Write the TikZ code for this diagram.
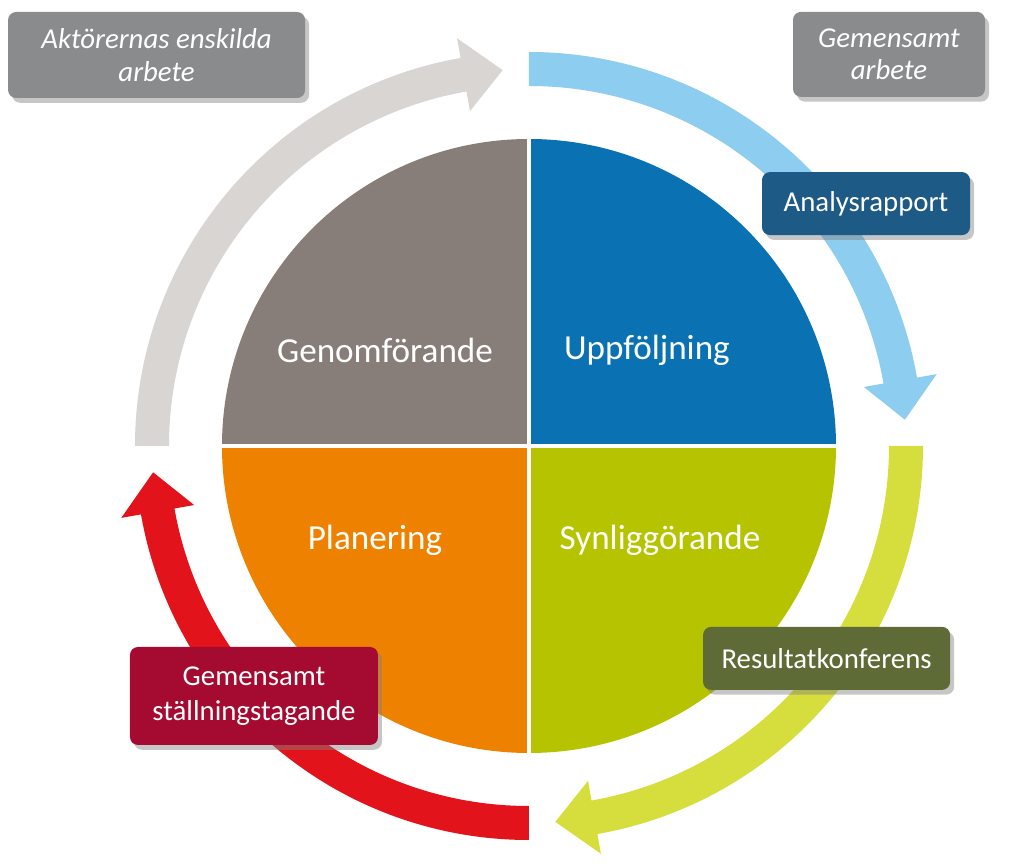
\documentclass[tikz,border=0pt]{standalone}
\usepackage{fontspec}
\setmainfont{Carlito}
\usepackage{xcolor}
\usepackage{tikz}
\usetikzlibrary{positioning, shadows}

\definecolor{quadgrey}{HTML}{877E79}
\definecolor{quadblue}{HTML}{0A71B3}
\definecolor{quadorange}{HTML}{EE8100}
\definecolor{quadlime}{HTML}{B6C300}
\definecolor{arrgrey}{HTML}{D8D5D2}
\definecolor{arrblue}{HTML}{8DCDEF}
\definecolor{arrgreen}{HTML}{D5DE3C}
\definecolor{arrred}{HTML}{E2131B}
\definecolor{boxgrey}{HTML}{8A8B8D}
\definecolor{boxblue}{HTML}{1E5A86}
\definecolor{boxolive}{HTML}{5E6B36}
\definecolor{boxred}{HTML}{A50B30}

\tikzset{
  quadlabel/.style={text=white, font=\fontsize{25}{30}\selectfont},
  infobox/.style={rounded corners=0.2cm, text=white, align=center, inner sep=0pt,
    font=\fontsize{20.5}{25}\selectfont,
    drop shadow={opacity=0.45, shadow xshift=0.1cm, shadow yshift=-0.12cm}},
}

% ring arrow: start angle, colour (runs clockwise for 86 degrees)
\newcommand{\ringarrow}[2]{%
  \fill[#2] (#1:9.85) arc[start angle=#1, end angle=#1-80, radius=9.85]
    -- ({#1-80}:10.35) -- ({#1-86}:9.42) -- ({#1-80}:8.5) -- ({#1-80}:9.0)
    arc[start angle=#1-80, end angle=#1, radius=9.0] -- cycle;}

\begin{document}
\begin{tikzpicture}
    \useasboundingbox (-13.225,-10.45) rectangle (12.375,11.15);

    % Quadrants
    \fill[quadgrey] (0,0) -- (180:7.675) arc[start angle=180, end angle=90, radius=7.675] -- cycle;
    \fill[quadblue] (0,0) -- (90:7.675) arc[start angle=90, end angle=0, radius=7.675] -- cycle;
    \fill[quadlime] (0,0) -- (0:7.675) arc[start angle=0, end angle=-90, radius=7.675] -- cycle;
    \fill[quadorange] (0,0) -- (-90:7.675) arc[start angle=-90, end angle=-180, radius=7.675] -- cycle;
    \draw[white, line width=0.1cm] (-7.8,0) -- (7.8,0);
    \draw[white, line width=0.1cm] (0,-7.8) -- (0,7.8);

    \node[quadlabel] (gen) at (-3.6,2.4) {Genomförande};
    \node[quadlabel] (upp) at (2.95,2.4) {Uppföljning};
    \node[quadlabel] (plan) at (-3.85,-2.35) {Planering};
    \node[quadlabel] (syn) at (3.275,-2.35) {Synliggörande};

    % Ring arrows
    \ringarrow{180}{arrgrey}
    \ringarrow{90}{arrblue}
    \ringarrow{0}{arrgreen}
    \ringarrow{-90}{arrred}

    % Boxes
    \node[infobox, fill=boxgrey, minimum width=7.425cm, minimum height=2.15cm,
      font=\itshape\fontsize{20.5}{23}\selectfont] (akt) at (-9.31,9.775) {Aktörernas enskilda\\arbete};
    \node[infobox, fill=boxgrey, minimum width=4.8cm, minimum height=2.125cm,
      font=\itshape\fontsize{20.5}{23}\selectfont] (gem) at (9.0,9.79) {Gemensamt\\arbete};
    \node[infobox, fill=boxblue, minimum width=5.2cm, minimum height=1.575cm] (ana) at (8.425,6.06) {Analysrapport};
    \node[infobox, fill=boxolive, minimum width=6.175cm, minimum height=1.575cm] (res) at (7.44,-5.31) {Resultatkonferens};
    \node[infobox, fill=boxred, minimum width=6.2cm, minimum height=2.45cm] (stl) at (-6.875,-6.25) {Gemensamt\\ställningstagande};

\end{tikzpicture}
\end{document}
